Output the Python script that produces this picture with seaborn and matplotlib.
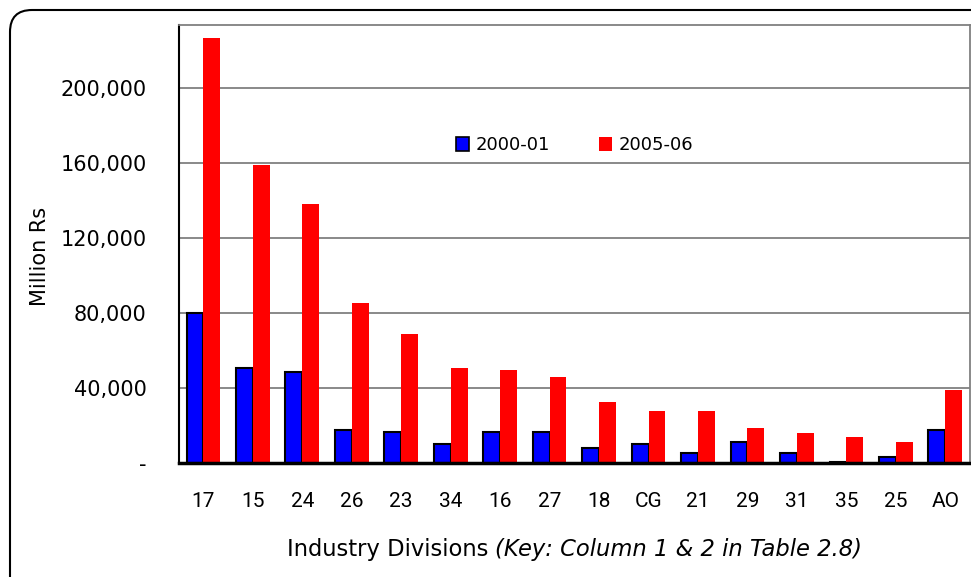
import pandas as pd
import matplotlib
matplotlib.use("Agg")
import matplotlib.pyplot as plt
import matplotlib.patches as mpatches
from matplotlib.transforms import IdentityTransform
from matplotlib.ticker import FuncFormatter, FixedLocator
import seaborn as sns

# Industry divisions and output values (Million Rs)
divisions = ['17', '15', '24', '26', '23', '34', '16', '27', '18', 'CG',
             '21', '29', '31', '35', '25', 'AO']
val_2000 = [80000, 50800, 48700, 17700, 16600, 10200, 16600, 16600, 8000, 10200,
            5300, 11200, 5300, 500, 3200, 17700]
val_2006 = [227000, 159000, 138500, 85600, 69000, 50800, 49800, 46000, 32600, 27800,
            27800, 18700, 16000, 13900, 11200, 39000]
years = ['2000-01', '2005-06']

df = pd.concat([
    pd.DataFrame({'division': divisions, 'value': val_2000, 'year': years[0]}),
    pd.DataFrame({'division': divisions, 'value': val_2006, 'year': years[1]}),
])

sns.set_style("white")
plt.rcParams['font.family'] = ['DejaVu Sans']
plt.rcParams['text.color'] = 'black'
plt.rcParams['axes.labelcolor'] = 'black'
plt.rcParams['xtick.color'] = 'black'
plt.rcParams['ytick.color'] = 'black'

narrow = ['Roboto', 'DejaVu Sans']

fig = plt.figure(figsize=(9.71, 5.77), dpi=100)
ax = fig.add_axes([0.184, 0.198, 0.815, 0.759])

sns.barplot(data=df, x='division', y='value', hue='year', order=divisions,
            palette={'2000-01': '#0000FF', '2005-06': '#FF0000'},
            width=0.68, gap=0, ax=ax, legend=False, saturation=1)

for bar in ax.containers[0]:
    bar.set_edgecolor('black')
    bar.set_linewidth(1.5)
for bar in ax.containers[1]:
    bar.set_edgecolor('#FF0000')
    bar.set_linewidth(0)

ax.set_ylim(0, 234000)
ax.set_xlim(-0.5, len(divisions) - 0.5)
ax.set_yticks([0, 40000, 80000, 120000, 160000, 200000])
ax.yaxis.set_major_formatter(FuncFormatter(lambda v, p: '-' if v == 0 else f'{v:,.0f}'))
ax.yaxis.grid(True, color='#808080', linewidth=1.3)
ax.set_axisbelow(True)

ax.tick_params(axis='y', direction='out', length=6, width=1.2, color='black',
               labelsize=15, pad=17)
ax.tick_params(axis='x', which='major', length=0, labelsize=15, pad=21)
ax.xaxis.set_minor_locator(FixedLocator([i + 0.5 for i in range(len(divisions) - 1)]))
ax.tick_params(axis='x', which='minor', direction='in', length=6, width=1.5, color='black')

for lab in ax.get_xticklabels():
    lab.set_family(narrow)

ax.spines['left'].set_color('black')
ax.spines['left'].set_linewidth(1.5)
ax.spines['bottom'].set_color('black')
ax.spines['bottom'].set_linewidth(2.5)
ax.spines['top'].set_color('#808080')
ax.spines['right'].set_color('#808080')
ax.spines['top'].set_linewidth(1.3)
ax.spines['right'].set_linewidth(1.3)

ax.set_ylabel('Million Rs', fontsize=15)
ax.yaxis.set_label_coords(-0.163, 0.47)
ax.set_xlabel('')
fig.text(0.51, 0.048, 'Industry Divisions ', ha='right', va='center', fontsize=16.3)
fig.text(0.51, 0.048, '(Key: Column 1 & 2 in Table 2.8)', ha='left', va='center',
         fontsize=16.3, style='italic')

handles = [mpatches.Patch(facecolor='#0000FF', edgecolor='black', linewidth=1.2),
           mpatches.Patch(facecolor='#FF0000', edgecolor='#FF0000', linewidth=0)]
leg = ax.legend(handles, years, ncol=2, frameon=False, loc='center',
                bbox_to_anchor=(0.50, 0.725), handlelength=0.75, handleheight=0.75,
                handletextpad=0.35, columnspacing=2.7, prop={'size': 13})

# rounded chart-area border
border = mpatches.FancyBboxPatch((10, -60), 1100, 627, boxstyle='round,pad=0,rounding_size=22',
                                 facecolor='none', edgecolor='black', linewidth=1.5,
                                 transform=IdentityTransform())
fig.patches.append(border)

fig.savefig('out.png', dpi=100)
